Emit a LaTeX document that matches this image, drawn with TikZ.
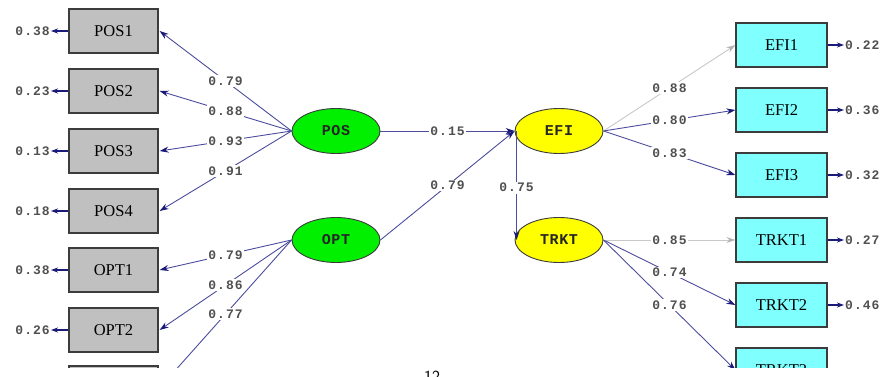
\documentclass[tikz,border=0pt]{standalone}
\usepackage{fontspec}
\setmainfont{Liberation Serif}
\newfontfamily\monofont[LetterSpace=8]{Liberation Mono}
\newfontfamily\latfont[LetterSpace=4]{Liberation Mono}
\usetikzlibrary{arrows.meta,shapes.geometric}
\definecolor{pathc}{HTML}{4C4C9E}
\definecolor{headc}{HTML}{1A1A78}
\definecolor{greyline}{HTML}{C8C8C8}
\definecolor{greyhead}{HTML}{B4B4B4}
\definecolor{boxgrey}{HTML}{C0C0C0}
\definecolor{boxcyan}{HTML}{80FFFF}
\definecolor{bord}{HTML}{3C3C3C}
\definecolor{latgreen}{HTML}{00F000}
\definecolor{latyellow}{HTML}{FFFF00}
\definecolor{numc}{HTML}{505050}
\begin{document}
\begin{tikzpicture}[x=1pt,y=-1pt,
  obsbox/.style={draw=bord, line width=1.2pt, minimum width=89pt, minimum height=44pt,
    inner sep=0pt, font=\fontsize{16.5}{17}\selectfont},
  obsL/.style={obsbox, fill=boxgrey},
  obsR/.style={obsbox, fill=boxcyan, minimum width=91pt},
  latent/.style={ellipse, draw=bord, line width=0.9pt, minimum width=88pt, minimum height=45pt,
    inner sep=0pt, font=\latfont\bfseries\fontsize{15}{15}\selectfont, text=black!85},
  latG/.style={latent, fill=latgreen},
  latY/.style={latent, fill=latyellow},
  numlab/.style={font=\monofont\bfseries\fontsize{13}{14}\selectfont, text=numc, inner sep=1pt},
  onlab/.style={numlab, fill=white, pos=0.5, inner sep=1.5pt},
  path/.style={draw=pathc, line width=0.9pt, -{Stealth[length=9pt,width=6pt,color=headc]}},
  greypath/.style={draw=greyline, line width=0.9pt, -{Stealth[length=9pt,width=6pt,color=greyhead]}},
  errpath/.style={draw=headc, line width=1.2pt, -{Stealth[length=7pt,width=5pt,color=headc]}}
]
\useasboundingbox (0,0) rectangle (884,377);
\clip (0,0) rectangle (884,377);
\node[font=\sffamily\fontsize{17}{17}\selectfont] (pg) at (432,377) {12};
\begin{scope}
\clip (0,0) rectangle (884,367.5);
% left observed
\node[obsL] (POS1) at (113.5,31) {POS1};
\node[obsL] (POS2) at (113.5,91) {POS2};
\node[obsL] (POS3) at (113.5,151) {POS3};
\node[obsL] (POS4) at (113.5,211) {POS4};
\node[obsL] (OPT1) at (113.5,270) {OPT1};
\node[obsL] (OPT2) at (113.5,330) {OPT2};
\node[obsL] (OPT3) at (113.5,388) {OPT3};
% latent
\node[latG] (POS) at (336,131) {POS};
\node[latG] (OPT) at (336,240) {OPT};
\node[latY] (EFI) at (559,131) {EFI};
\node[latY] (TRKT) at (559,240) {TRKT};
% right observed
\node[obsR] (EFI1) at (781.5,45) {EFI1};
\node[obsR] (EFI2) at (781.5,110) {EFI2};
\node[obsR] (EFI3) at (781.5,175) {EFI3};
\node[obsR] (TRKT1) at (781.5,240) {TRKT1};
\node[obsR] (TRKT2) at (781.5,305) {TRKT2};
\node[obsR] (TRKT3) at (781.5,370) {TRKT3};
% error labels
\node[numlab, anchor=east] (eP1) at (51,31) {0.38};
\node[numlab, anchor=east] (eP2) at (51,91) {0.23};
\node[numlab, anchor=east] (eP3) at (51,151) {0.13};
\node[numlab, anchor=east] (eP4) at (51,211) {0.18};
\node[numlab, anchor=east] (eO1) at (51,270) {0.38};
\node[numlab, anchor=east] (eO2) at (51,330) {0.26};
\node[numlab, anchor=west] (eE1) at (844,45) {0.22};
\node[numlab, anchor=west] (eE2) at (844,110) {0.36};
\node[numlab, anchor=west] (eE3) at (844,175) {0.32};
\node[numlab, anchor=west] (eT1) at (844,240) {0.27};
\node[numlab, anchor=west] (eT2) at (844,305) {0.46};
\draw[errpath] (POS1.west) -- (eP1.east);
\draw[errpath] (POS2.west) -- (eP2.east);
\draw[errpath] (POS3.west) -- (eP3.east);
\draw[errpath] (POS4.west) -- (eP4.east);
\draw[errpath] (OPT1.west) -- (eO1.east);
\draw[errpath] (OPT2.west) -- (eO2.east);
\draw[errpath] (EFI1.east) -- (eE1.west);
\draw[errpath] (EFI2.east) -- (eE2.west);
\draw[errpath] (EFI3.east) -- (eE3.west);
\draw[errpath] (TRKT1.east) -- (eT1.west);
\draw[errpath] (TRKT2.east) -- (eT2.west);
% loadings left
\draw[path] (POS.west) -- node[onlab] {0.79} ([xshift=1pt]POS1.east);
\draw[path] (POS.west) -- node[onlab] {0.88} ([xshift=1pt]POS2.east);
\draw[path] (POS.west) -- node[onlab] {0.93} ([xshift=1pt]POS3.east);
\draw[path] (POS.west) -- node[onlab] {0.91} ([xshift=1pt]POS4.east);
\draw[path] (OPT.west) -- node[onlab] {0.79} ([xshift=1pt]OPT1.east);
\draw[path] (OPT.west) -- node[onlab] {0.86} ([xshift=1pt]OPT2.east);
\draw[path] (OPT.west) -- node[onlab] {0.77} ([xshift=1pt]OPT3.east);
% structural
\draw[path] (POS.east) -- node[onlab] {0.15} (EFI.west);
\draw[path] (OPT.east) -- node[onlab] {0.79} (EFI.west);
\draw[path] ([xshift=2pt]EFI.west) -- node[onlab, pos=0.52] {0.75} ([xshift=2pt]TRKT.west);
% loadings right
\draw[greypath] (EFI.east) -- node[onlab] {0.88} (EFI1.west);
\draw[path] (EFI.east) -- node[onlab] {0.80} (EFI2.west);
\draw[path] (EFI.east) -- node[onlab] {0.83} (EFI3.west);
\draw[greypath] (TRKT.east) -- node[onlab] {0.85} (TRKT1.west);
\draw[path] (TRKT.east) -- node[onlab] {0.74} (TRKT2.west);
\draw[path] (TRKT.east) -- node[onlab] {0.76} (TRKT3.west);
\end{scope}
\end{tikzpicture}
\end{document}
